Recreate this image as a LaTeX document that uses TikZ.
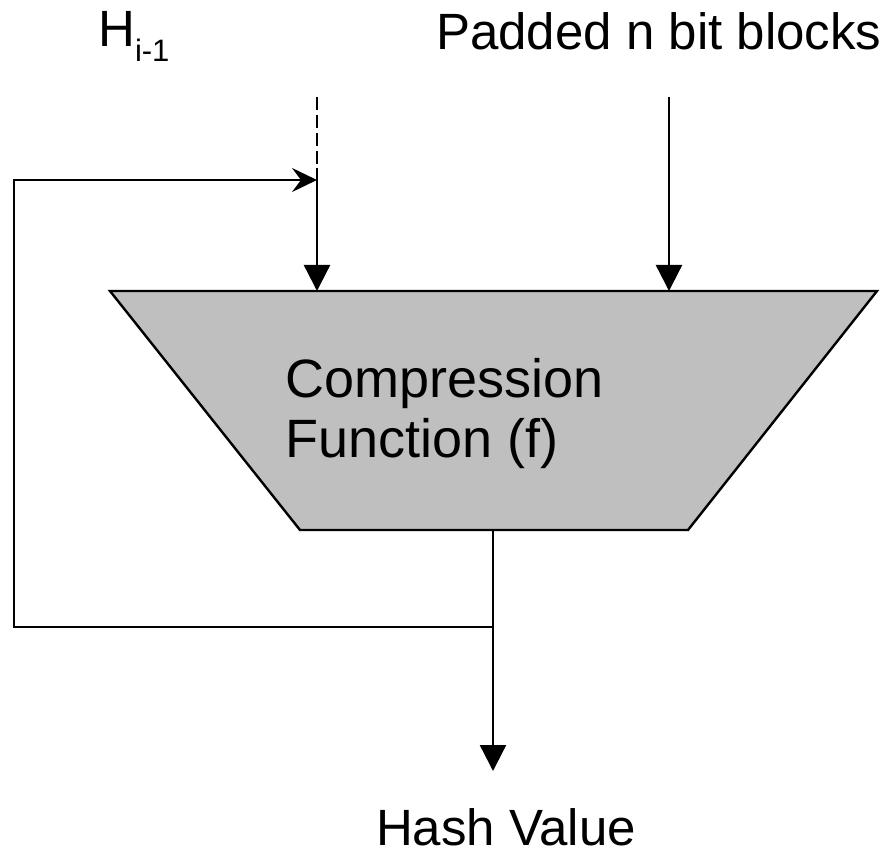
\documentclass[tikz,border=0pt]{standalone}
\usepackage{fontspec}
\setmainfont{Liberation Sans}
\usetikzlibrary{arrows.meta}
\begin{document}
\begin{tikzpicture}[x=1pt,y=-1pt,
  line/.style={line width=2.4pt,draw=black},
  headarrow/.style={-{Triangle[length=26pt,width=26pt]}},
  feedarrow/.style={-{Stealth[length=25pt,width=24pt,inset=9pt]}},
  lbl/.style={inner sep=0pt,font=\fontsize{51}{60}\selectfont},
  cflbl/.style={inner sep=0pt,font=\fontsize{54}{60}\selectfont},
  cfbox/.style={line width=2.4pt,draw=black,fill=black!25}]
\useasboundingbox (0,0) rectangle (886,850);
% trapezoid
\coordinate (tl) at (110,291);
\coordinate (tr) at (877,291);
\coordinate (br) at (688,530);
\coordinate (bl) at (300,530);
\path[cfbox] (tl) -- (tr) -- (br) -- (bl) -- cycle;
\node[cflbl,anchor=base west,align=left] (cf) at (285,457) {Compression\\Function (f)};
% inputs
\coordinate (hin) at (317,291);
\coordinate (pin) at (669,291);
\coordinate (htop) at (317,97);
\coordinate (hmid) at (317,168);
\coordinate (ptop) at (669,97);
\coordinate (hjoin) at (317,180);
\draw[line,dash pattern=on 13pt off 5pt] (htop) -- (hmid);
\draw[line,headarrow] (hmid) -- (hin);
\draw[line,headarrow] (ptop) -- (pin);
% output and feedback
\coordinate (out) at (493,530);
\coordinate (split) at (493,627);
\coordinate (fbl) at (14,627);
\coordinate (ftl) at (14,180);
\coordinate (hv) at (493,771);
\draw[line,headarrow] (out) -- (hv);
\draw[line,feedarrow] (split) -- (fbl) -- (ftl) -- (hjoin);
% labels
\node[lbl,anchor=base west] (hlabel) at (98,47) {H\raisebox{-15pt}{\fontsize{31}{31}\selectfont i-1}};
\node[lbl,anchor=base west] (plabel) at (436,50) {Padded n bit blocks};
\node[lbl,anchor=base,text depth=0pt] (hvlabel) at (506,845) {Hash Value};
\end{tikzpicture}
\end{document}
